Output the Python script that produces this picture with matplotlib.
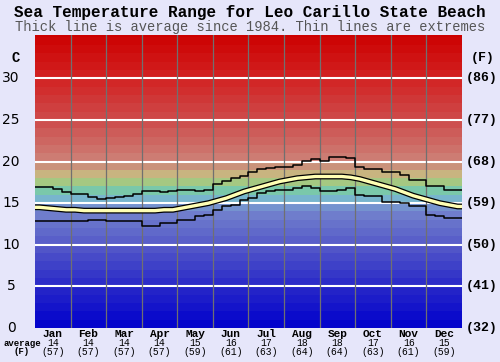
import numpy as np
import matplotlib
matplotlib.use("Agg")
import matplotlib.pyplot as plt
from matplotlib.colors import LinearSegmentedColormap

months = ["Jan", "Feb", "Mar", "Apr", "May", "Jun", "Jul", "Aug", "Sep", "Oct", "Nov", "Dec"]
avg_c = [14, 14, 14, 14, 15, 16, 17, 18, 18, 17, 16, 15]
avg_f = [57, 57, 57, 57, 59, 61, 63, 64, 64, 63, 61, 59]
c_ticks = [0, 5, 10, 15, 20, 25, 30]
f_labels = ["(32)", "(41)", "(50)", "(59)", "(68)", "(77)", "(86)"]

# quarter-month resolution (48 steps)
t_max = [16.9, 16.9, 16.7, 16.3, 16.1, 16.1, 15.7, 15.5, 15.6, 15.7, 15.9, 16.1,
         16.4, 16.4, 16.3, 16.4, 16.6, 16.6, 16.5, 16.6, 17.3, 17.6, 18.0, 18.3,
         18.8, 19.1, 19.2, 19.3, 19.4, 19.6, 20.1, 20.3, 20.1, 20.6, 20.5, 20.4,
         19.4, 19.1, 19.1, 18.8, 18.8, 18.4, 17.8, 17.8, 17.0, 17.0, 16.6, 16.6]
t_min = [12.8, 12.8, 12.8, 12.9, 12.9, 12.9, 13.0, 13.0, 12.8, 12.8, 12.8, 12.8,
         12.3, 12.3, 12.6, 12.6, 13.0, 13.0, 13.5, 13.6, 14.2, 14.6, 14.8, 15.4,
         15.6, 16.2, 16.4, 16.6, 16.6, 16.8, 17.0, 16.8, 16.5, 16.5, 16.6, 16.8,
         16.0, 15.8, 15.8, 15.1, 15.1, 15.0, 14.6, 14.6, 13.6, 13.5, 13.2, 13.2]
t_avg = [14.5, 14.4, 14.3, 14.2, 14.2, 14.1, 14.1, 14.1, 14.1, 14.1, 14.1, 14.1,
         14.1, 14.1, 14.2, 14.2, 14.4, 14.6, 14.8, 15.0, 15.3, 15.6, 16.0, 16.4,
         16.7, 17.0, 17.3, 17.6, 17.8, 18.0, 18.1, 18.2, 18.2, 18.2, 18.2, 18.1,
         17.9, 17.6, 17.3, 17.0, 16.7, 16.3, 15.9, 15.6, 15.3, 15.0, 14.8, 14.6]

BG = "#e6e6fa"
W, H = 500, 362
fig = plt.figure(figsize=(5.0, 3.62), dpi=100, facecolor=BG)
ax = fig.add_axes([35 / W, 34 / H, 427 / W, 293 / H])
ax.set_xlim(0, 12)
ax.set_ylim(0, 35.2)

# background temperature bands
anchors = [
    (0.0, (0, 0, 204)),
    (5.0, (40, 40, 200)),
    (10.0, (85, 90, 200)),
    (14.0, (115, 130, 205)),
    (15.0, (120, 165, 210)),
    (16.0, (120, 200, 200)),
    (17.0, (125, 200, 130)),
    (18.0, (200, 200, 130)),
    (19.0, (200, 160, 125)),
    (20.0, (205, 130, 120)),
    (25.0, (205, 75, 75)),
    (30.0, (210, 35, 35)),
    (35.2, (204, 0, 0)),
]
cmap = LinearSegmentedColormap.from_list(
    "sea", [(v / 35.2, tuple(c / 255 for c in col)) for v, col in anchors])
for b in range(36):
    ax.axhspan(b, b + 1, color=cmap(min((b + 0.5) / 35.2, 1.0)), lw=0, zorder=0)

for v in c_ticks[1:]:
    ax.axhline(v, color="white", lw=1.5, zorder=1)
for m in range(1, 12):
    ax.axvline(m, color="#707070", lw=0.9, zorder=1)

x = np.arange(49) / 4.0
ax.step(x, t_max + [t_max[-1]], where="post", color="black", lw=1.1, zorder=3)
ax.step(x, t_min + [t_min[-1]], where="post", color="black", lw=1.1, zorder=3)
xa = (np.arange(48) + 0.5) / 4.0
xa = np.concatenate([[0], xa, [12]])
ya = [t_avg[0]] + t_avg + [t_avg[-1]]
ax.plot(xa, ya, color="black", lw=4.2, zorder=4, solid_capstyle="butt")
ax.plot(xa, ya, color="#ffffb4", lw=2.4, zorder=5, solid_capstyle="butt")

ax.set_xticks([])
ax.set_yticks([])
for s in ax.spines.values():
    s.set_visible(False)

mono = "Liberation Mono"
fig.text(0.5, 1 - 12 / H, "Sea Temperature Range for Leo Carillo State Beach",
         ha="center", va="center", fontsize=11.5, fontweight="bold", family=mono)
fig.text(0.5, 1 - 27 / H, "Thick line is average since 1984. Thin lines are extremes",
         ha="center", va="center", fontsize=9.9, color="#555555", family=mono)

tr = ax.get_yaxis_transform()
for v, fl in zip(c_ticks, f_labels):
    ax.text(-24 / 427, v, str(v), transform=tr, ha="center", va="center",
            fontsize=10, family="DejaVu Sans")
    ax.text(1.008, v, fl, transform=tr, ha="left", va="center",
            fontsize=9.5, fontweight="bold", family=mono)
ax.text(-19 / 427, 32.4, "C", transform=tr, ha="center", va="center", fontsize=10,
        fontweight="bold", family=mono)
ax.text(1.02, 32.4, "(F)", transform=tr, ha="left", va="center", fontsize=9.5,
        fontweight="bold", family=mono)

for i, (m, c, f) in enumerate(zip(months, avg_c, avg_f)):
    xf = (35 + (i + 0.5) * 427 / 12) / W
    fig.text(xf, 1 - 334 / H, m, ha="center", va="center", fontsize=8,
             fontweight="bold", family=mono)
    fig.text(xf, 1 - 343 / H, str(c), ha="center", va="center", fontsize=7,
             family=mono)
    fig.text(xf, 1 - 352 / H, f"({f})", ha="center", va="center", fontsize=7,
             family=mono)
fig.text(22 / W, 1 - 343 / H, "average", ha="center", va="center", fontsize=6.5,
         fontweight="bold", family=mono)
fig.text(22 / W, 1 - 352 / H, "(F)", ha="center", va="center", fontsize=6.5,
         fontweight="bold", family=mono)

fig.savefig("out.png", dpi=100, facecolor=BG)
